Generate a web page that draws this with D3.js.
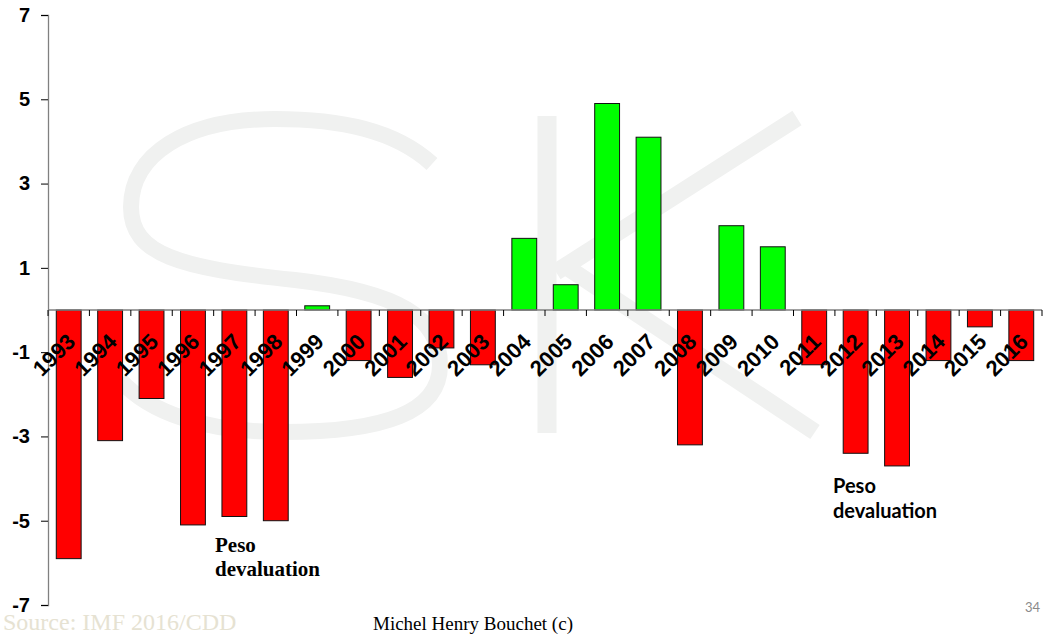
<!DOCTYPE html>
<html>
<head>
<meta charset="utf-8">
<script src="https://cdn.jsdelivr.net/npm/d3@7"></script>
<style>
  html, body { margin: 0; padding: 0; background: #ffffff; }
  svg { display: block; }
</style>
</head>
<body>
<svg id="chart" width="1043" height="634"></svg>
<script>
// Annual values, 1993-2016
const years = ["1993","1994","1995","1996","1997","1998","1999","2000","2001","2002","2003","2004",
               "2005","2006","2007","2008","2009","2010","2011","2012","2013","2014","2015","2016"];
const values = [-5.9, -3.1, -2.1, -5.1, -4.9, -5.0, 0.1, -1.2, -1.6, -0.9, -1.3, 1.7,
                0.6, 4.9, 4.1, -3.2, 2.0, 1.5, -1.3, -3.4, -3.7, -1.2, -0.4, -1.2];
const yTicks = [-7, -5, -3, -1, 1, 3, 5, 7];
const yDomain = [-7, 7];

const SANS = "'Liberation Sans', Arial, Helvetica, sans-serif";
const SERIF = "'Liberation Serif', 'Times New Roman', serif";
const SANS2 = "Lato, 'Open Sans', sans-serif";

const svg = d3.select("#chart");

const x = d3.scaleBand().domain(years).range([48, 1042]).paddingInner(0.4).paddingOuter(0.2);
const y = d3.scaleLinear().domain(yDomain).range([605, 15]);

// faint "SK" monogram behind the plot
const wm = svg.append("g").attr("fill", "none").attr("stroke", "#f0f1f0");
wm.append("path")
  .attr("stroke-width", 16)
  .attr("d", "M 432 164 C 395 130 340 119 275 119 C 185 119 131 155 131 207 C 131 255 180 268 295 280 C 400 292 440 318 440 365 C 440 412 385 432 283 432 C 205 432 150 413 120 380");
wm.append("path").attr("stroke-width", 19).attr("d", "M 547 116 L 547 433");
wm.append("path").attr("stroke-width", 17).attr("d", "M 556 272 L 797 118");
wm.append("path").attr("stroke-width", 17).attr("d", "M 568 268 L 815 432");

// bars
svg.append("g").selectAll("rect")
  .data(years.map((yr, i) => ({ yr, v: values[i] })))
  .join("rect")
  .attr("x", d => x(d.yr))
  .attr("width", x.bandwidth())
  .attr("y", d => y(Math.max(0, d.v)))
  .attr("height", d => Math.abs(y(d.v) - y(0)))
  .attr("fill", d => d.v >= 0 ? "#00ff00" : "#ff0000")
  .attr("stroke", "#111")
  .attr("stroke-width", 1);

// y axis
const yAxis = d3.axisLeft(y).tickValues(yTicks).tickSize(7).tickFormat(d => String(d));
const gy = svg.append("g").attr("transform", "translate(48,0)").call(yAxis);
gy.select(".domain").attr("stroke", "#808080").attr("stroke-width", 1.3);
gy.selectAll(".tick line").attr("stroke", "#000");
gy.selectAll(".tick text")
  .attr("x", -18)
  .attr("font-family", SANS)
  .attr("font-weight", "bold")
  .attr("font-size", 20)
  .attr("fill", "#000");

// x axis along zero, ticks at category boundaries
const step = x.step();
const boundaries = d3.range(years.length + 1).map(i => x(years[0]) - step * x.paddingOuter() + i * step);
const gx = svg.append("g");
gx.append("line")
  .attr("x1", 48).attr("x2", 1042)
  .attr("y1", y(0)).attr("y2", y(0))
  .attr("stroke", "#808080").attr("stroke-width", 1.3);
gx.selectAll("line.tk").data(boundaries).join("line")
  .attr("class", "tk")
  .attr("x1", d => d).attr("x2", d => d)
  .attr("y1", y(0)).attr("y2", y(0) + 6)
  .attr("stroke", "#000");

gx.selectAll("text").data(years).join("text")
  .attr("transform", d => `translate(${x(d) + x.bandwidth() / 2 + 8},${y(0) + 33}) rotate(-45)`)
  .attr("text-anchor", "end")
  .attr("font-family", SANS)
  .attr("font-weight", "bold")
  .attr("font-size", 22)
  .attr("fill", "#000")
  .text(d => d);

// annotations
const ann1 = svg.append("text")
  .attr("font-family", SERIF)
  .attr("font-weight", "bold").attr("font-size", 21).attr("fill", "#000");
ann1.append("tspan").attr("x", 215).attr("y", 552).text("Peso");
ann1.append("tspan").attr("x", 215).attr("y", 576).text("devaluation");

const ann2 = svg.append("text")
  .attr("font-family", SANS2)
  .attr("font-weight", "bold").attr("font-size", 20).attr("fill", "#000");
ann2.append("tspan").attr("x", 833).attr("y", 493).text("Peso");
ann2.append("tspan").attr("x", 833).attr("y", 518).text("devaluation");

// footer
svg.append("text")
  .attr("x", 3).attr("y", 630)
  .attr("font-family", SERIF)
  .attr("font-size", 24).attr("fill", "#e6e2d2")
  .text("Source: IMF 2016/CDD");
svg.append("text")
  .attr("x", 373).attr("y", 630)
  .attr("font-family", SERIF)
  .attr("font-size", 19).attr("fill", "#000")
  .text("Michel Henry Bouchet (c)");
svg.append("text")
  .attr("x", 1040).attr("y", 612).attr("text-anchor", "end")
  .attr("font-family", SANS2)
  .attr("font-size", 13).attr("fill", "#8a8a8a")
  .text("34");
</script>
</body>
</html>
